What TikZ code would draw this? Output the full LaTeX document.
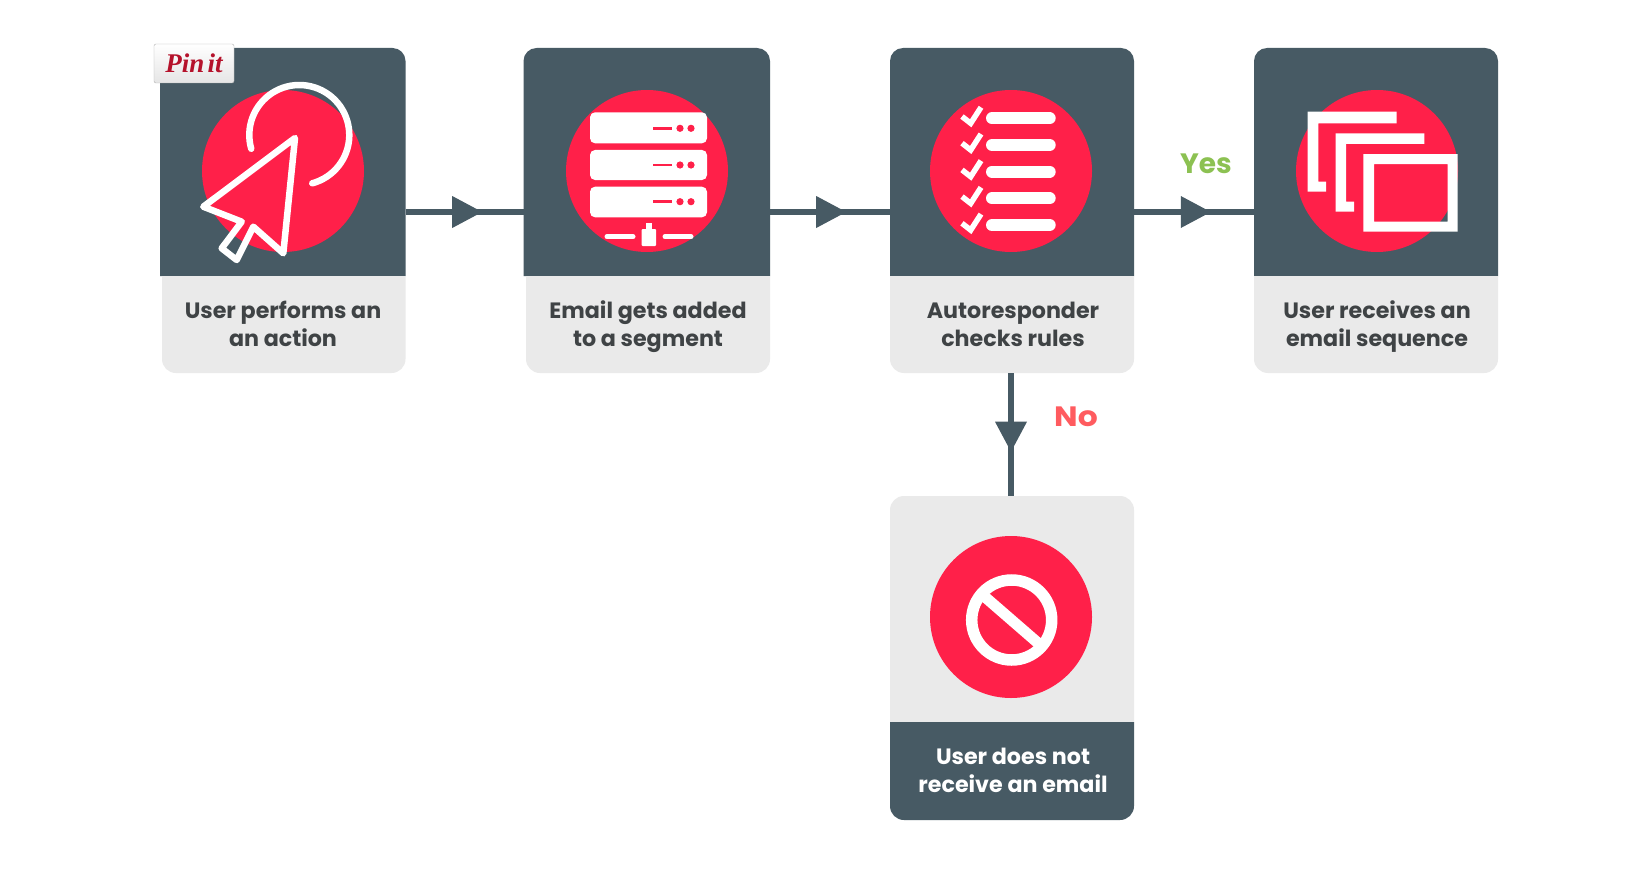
\documentclass[tikz,border=0pt]{standalone}
\usepackage{fontspec}
\setmainfont{Poppins}
\newfontfamily\pinfont{Liberation Serif}
\usetikzlibrary{decorations.markings}
\definecolor{slateC}{HTML}{475A64}
\definecolor{redC}{HTML}{FF2049}
\definecolor{lightC}{HTML}{EAEAEA}
\definecolor{inkC}{HTML}{3F4345}
\definecolor{yesC}{HTML}{8CC152}
\definecolor{noC}{HTML}{FF5B5F}
\definecolor{pinC}{HTML}{B5122B}
\tikzset{
  cardanchor/.style={minimum width=#1,minimum height=325,inner sep=0pt,outer sep=0pt},
  caption/.style={anchor=base,inner sep=0pt,font=\fontsize{22.2}{26}\selectfont\bfseries,text=inkC},
  captionlight/.style={caption,text=white},
  flag/.style={anchor=base,inner sep=0pt,font=\fontsize{28}{32}\selectfont\bfseries},
  link/.style={draw=slateC,line width=5.5,postaction={decorate},
    decoration={markings,mark=at position #1 with {\fill[slateC] (-30,-16)--(0,0)--(-30,16)--cycle;}}},
  disc/.style={fill=redC},
  glyph/.style={draw=white,line width=6.5,line join=round,line cap=round},
  pinbox/.style={draw=black!30,top color=white,bottom color=black!10,rounded corners=2,
    minimum width=80,minimum height=39,inner sep=0pt,text=pinC,
    font=\fontsize{27}{30}\pinfont\bfseries\itshape}
}
\newcommand{\stepcard}[4]{% left dark, left light, right, centre x
  \fill[slateC,rounded corners=13] (#1,276) |- (#3,48) -- (#3,276);
  \fill[lightC,rounded corners=14] (#2,276) |- (#3,373) -- (#3,276);
  \fill[disc] (#4,171) circle[radius=81];
}
\begin{document}
\begin{tikzpicture}[x=1pt,y=-1pt]
\useasboundingbox[fill=white] (0,0) rectangle (1638,872);

% cards
\stepcard{160}{162}{405.5}{283}
\stepcard{523.5}{526}{770}{647}
\stepcard{890}{890}{1134}{1011}
\stepcard{1254}{1254}{1498}{1377}
\node[cardanchor=245.5] (c1) at (282.75,212) {};
\node[cardanchor=246.5] (c2) at (646.75,212) {};
\node[cardanchor=244] (c3) at (1012,212) {};
\node[cardanchor=244] (c4) at (1376,212) {};
% last card
\fill[lightC,rounded corners=14] (890,722) |- (1134,496) -- (1134,722);
\fill[slateC,rounded corners=14] (890,722) |- (1134,820) -- (1134,722);
\fill[disc] (1011,617) circle[radius=81];
\node[cardanchor=244,minimum height=324] (c5) at (1012,658) {};

% connectors
\path[link=0.65] (c1.east) -- (c2.west);
\path[link=0.635] (c2.east) -- (c3.west);
\path[link=0.64] (c3.east) -- (c4.west);
\coordinate (c3bottom) at (1011,373);
\coordinate (c5top) at (1011,496);
\path[link=0.64] (c3bottom) -- (c5top);

% icon 1: pointer
\draw[glyph] (295,138) -- (203.3,206.7) -- (241.7,221.7) -- (221.7,248.3) -- (236.7,260)
  -- (253.3,226.7) -- (283.3,253.3) -- cycle;
\draw[glyph] plot[domain=196:-75,samples=60,smooth] ({299.3+50*cos(\x)},{135-50*sin(\x)});

% icon 2: server
\foreach \ty/\by/\my in {112.3/143.3/128.3,150/180/165,186.7/217.3/201.7}{
  \fill[white,rounded corners=5] (590,\ty) rectangle (707,\by);
  \draw[redC,line width=2.5] (653.3,\my) -- (671.7,\my);
  \fill[redC] (680,\my) circle[radius=3.6] (691,\my) circle[radius=3.6];
}
\draw[white,line width=5,line cap=round] (607,236.7) -- (633,236.7);
\draw[white,line width=5,line cap=round] (665,236.7) -- (691,236.7);
\fill[white,rounded corners=1] (641.7,229) rectangle (656,246);
\fill[white] (646,223) rectangle (651.7,230);

% icon 3: checklist
\foreach \r in {0,1,2,3,4}{
  \draw[white,line width=12,line cap=round] (992,118.3+26.7*\r) -- (1049.7,118.3+26.7*\r);
  \draw[white,line width=5.5] (962,116.5+26.7*\r) -- (970.7,123.3+26.7*\r) -- (981,107.3+26.7*\r);
}

% icon 4: stacked windows
\fill[white] (1307.7,111.7) -- (1396.7,111.7) -- (1396.7,123.3) -- (1318.3,123.3) -- (1318.3,181.7)
  -- (1326,181.7) -- (1326,191.7) -- (1307.7,191.7) -- cycle;
\fill[white] (1335.7,133.3) -- (1424.3,133.3) -- (1424.3,144) -- (1346,144) -- (1346,201.7)
  -- (1354,201.7) -- (1354,211.7) -- (1335.7,211.7) -- cycle;
\fill[white,even odd rule] (1363.3,154) rectangle (1457.7,231.7) (1374,164) rectangle (1447.7,221.7);

% icon 5: prohibition sign
\draw[white,line width=11.5] (1011.7,620) circle[radius=40];
\draw[white,line width=11] (985,597) -- (1038,643);

% captions
\node[caption] (t1a) at (283,318) {User performs an};
\node[caption] (t1b) at (283,346) {an action};
\node[caption] (t2a) at (648,318) {Email gets added};
\node[caption] (t2b) at (648,346) {to a segment};
\node[caption] (t3a) at (1013,318) {Autoresponder};
\node[caption] (t3b) at (1013,346) {checks rules};
\node[caption] (t4a) at (1377,318) {User receives an};
\node[caption] (t4b) at (1377,346) {email sequence};
\node[captionlight] (t5a) at (1013,764) {User does not};
\node[captionlight] (t5b) at (1013,792) {receive an email};

% branch labels
\node[flag,text=yesC] (yes) at (1206,173.5) {Yes};
\node[flag,text=noC] (no) at (1076,426) {\scalebox{1.12}[1]{No}};

% pin button
\node[pinbox] (pin) at (194,63.5) {Pin\hspace{3pt}it};
\end{tikzpicture}
\end{document}
